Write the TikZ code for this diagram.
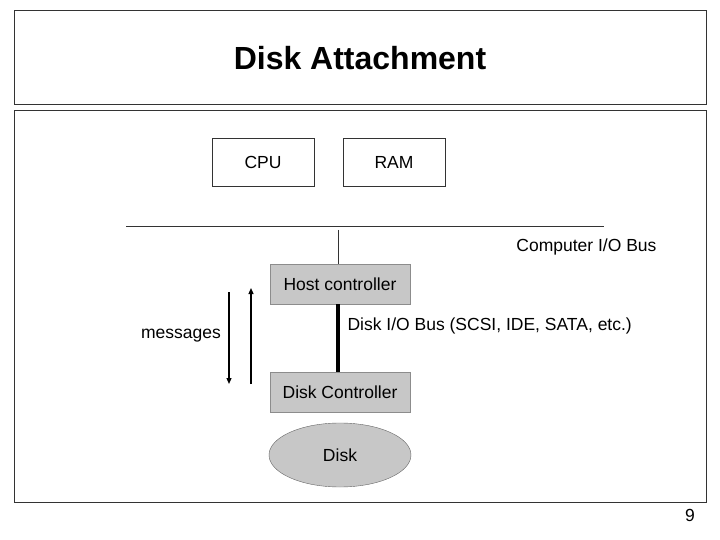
\documentclass[tikz,border=0pt]{standalone}
\usepackage{fontspec}
\setmainfont{Liberation Sans}
\usetikzlibrary{arrows.meta,positioning,shapes.geometric}
\begin{document}
\begin{tikzpicture}[
    x=1pt, y=-1pt,
    >={Triangle[length=6pt,width=5pt]},
    font=\fontsize{17.5}{20}\selectfont,
    line join=miter
]
\tikzset{
    frame/.style={draw=black!80, line width=0.8pt},
    plain/.style={draw=black!80, fill=white, minimum width=102pt, minimum height=48pt},
    ctrl/.style={draw=black!45, fill=black!22, minimum width=140pt, minimum height=40pt},
    flow/.style={->, line width=1.2pt}
}

% --- Canvas and frames ---
\useasboundingbox (0,0) rectangle (720,540);
\draw[frame] (14,10) rectangle (706,104);
\draw[frame] (14,110) rectangle (706,502);
\node[font=\fontsize{32}{36}\selectfont\bfseries] (title) at (360,58) {Disk Attachment};

% --- Processor and memory ---
\node[plain] (cpu) at (263,162) {CPU};
\node[plain] (ram) at (394,162) {RAM};

% --- Computer I/O bus ---
\coordinate (busL) at (126,226);
\coordinate (busR) at (604,226);
\draw[black!80] (busL) -- (busR);
\node[anchor=east] (buslabel) at (660,247) {Computer I/O Bus};

% --- Controllers ---
\node[ctrl] (host) at (340,284) {Host controller};
\node[ctrl] (disk) at (340,392) {Disk Controller};
\coordinate (tap) at (338,230);
\draw[black!80] (tap) -- (tap |- host.north);
\draw[line width=4pt] (host.south -| 338,0) -- (disk.north -| 338,0);
\node[anchor=west] (disklabel) at (344,326) {Disk I/O Bus (SCSI, IDE, SATA, etc.)};

% --- Disk ---
\node[ellipse, draw=black!60, fill=black!22, minimum width=142pt, minimum height=64pt] (platter) at (340,455) {Disk};

% --- Messages ---
\coordinate (dnA) at (229,292);
\coordinate (dnB) at (229,384);
\coordinate (upA) at (251,384);
\coordinate (upB) at (251,288);
\draw[flow] (dnA) -- (dnB);
\draw[flow] (upA) -- (upB);
\node (msg) at (181,336) {messages};

% --- Page number ---
\node (page) at (690,515) {9};
\end{tikzpicture}
\end{document}
